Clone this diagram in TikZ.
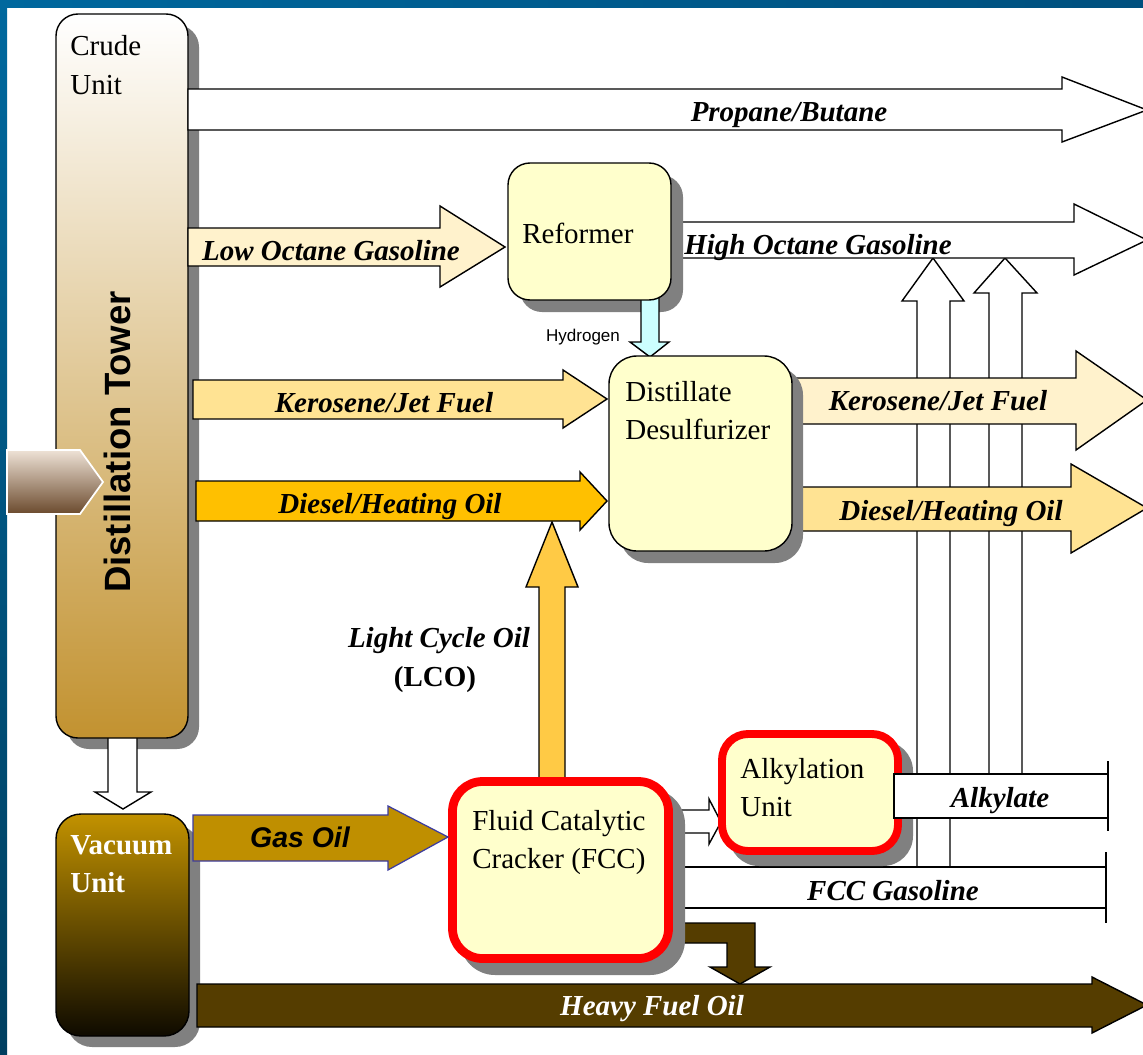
\documentclass[tikz,border=0pt]{standalone}
\usepackage{fontspec}
\setmainfont{Liberation Serif}
\setsansfont{Liberation Sans}
\definecolor{frameblueA}{HTML}{00689E}
\definecolor{frameblueB}{HTML}{003F60}
\definecolor{frameblueC}{HTML}{00507E}
\definecolor{boxyellow}{HTML}{FFFFCC}
\definecolor{cream}{HTML}{FFF2CC}
\definecolor{lightamber}{HTML}{FFE393}
\definecolor{amber}{HTML}{FFC000}
\definecolor{lcoyellow}{HTML}{FFCA45}
\definecolor{hydcyan}{HTML}{CCFFFF}
\definecolor{gasgold}{HTML}{BF8F00}
\definecolor{hfobrown}{HTML}{553D00}
\definecolor{shadowgray}{HTML}{808080}
\definecolor{towertan}{HTML}{C29230}
\definecolor{vacgoldA}{HTML}{C29200}
\definecolor{vacgoldB}{HTML}{8C6600}
\definecolor{vacgoldC}{HTML}{0E0A00}
\definecolor{gasoilblue}{HTML}{3C3CA0}
\definecolor{feedtop}{HTML}{EEE2D6}
\definecolor{feedbot}{HTML}{6B4A2D}
\begin{document}
\begin{tikzpicture}[x=0.02cm, y=-0.02cm,
  shadowbox/.style={fill=shadowgray},
  unitbox/.style={draw=black, line width=0.8pt, fill=boxyellow, inner sep=0pt},
  redbox/.style={draw=red, line width=5pt, fill=boxyellow, inner sep=0pt},
  blockarrow/.style={draw=black, line width=0.8pt, line join=miter},
  unittext/.style={font=\fontsize{16.5}{22}\selectfont, inner sep=0pt, anchor=base west},
  flowlabel/.style={font=\fontsize{16.5}{20}\selectfont\bfseries\itshape, inner sep=0pt, anchor=base},
  thinline/.style={draw=black, line width=0.8pt}]
\useasboundingbox (0,0) rectangle (1143,1055);
% background and frame
\fill[white] (0,0) rectangle (1143,1055);
\shade[top color=frameblueA, bottom color=frameblueB] (0,0) rectangle (7,1055);
\shade[left color=frameblueA, right color=frameblueC] (0,0) rectangle (1143,7);

% up arrows into high octane gasoline (behind everything)
\draw[blockarrow, fill=white] (917,867) -- (917,301) -- (902,301) -- (933,258) -- (964,301) -- (950,301) -- (950,867);
\draw[blockarrow, fill=white] (989,774) -- (989,293) -- (974,293) -- (1005,258) -- (1037,293) -- (1022,293) -- (1022,774);

% outgoing arrows that start under the box shadows
\draw[blockarrow, fill=white] (671,222) -- (1074,222) -- (1074,204) -- (1147,240) -- (1074,275) -- (1074,258) -- (671,258) -- cycle;
\draw[blockarrow, fill=cream] (792,378) -- (1076,378) -- (1076,351) -- (1147,400) -- (1076,450) -- (1076,424) -- (792,424) -- cycle;
\draw[blockarrow, fill=lightamber] (792,487) -- (1071,487) -- (1071,464) -- (1147,508) -- (1071,553) -- (1071,531) -- (792,531) -- cycle;
\draw[blockarrow, fill=white] (670,810) -- (709,810) -- (709,799) -- (721,822) -- (709,844) -- (709,833) -- (670,833) -- cycle;
\fill[white] (670,867) rectangle (1106,908);
\draw[thinline] (670,867) -- (1106,867);
\draw[thinline] (670,908) -- (1106,908);
\draw[line width=1.3pt] (1106,852) -- (1106,923);
\draw[blockarrow, fill=hfobrown] (670,923) -- (755,923) -- (755,967) -- (770,967) -- (740,984) -- (710,967) -- (727,967) -- (727,943) -- (670,943) -- cycle;
\draw[blockarrow, fill=lcoyellow] (539,790) -- (539,587) -- (526,587) -- (552,522) -- (578,587) -- (565,587) -- (565,790);

% shadows
\fill[shadowgray, rounded corners=0.44cm] (67,25) rectangle (199,749);
\fill[shadowgray, rounded corners=0.5cm] (67,825) rectangle (200,1047);
\fill[shadowgray, rounded corners=0.44cm] (520,175) rectangle (683,312);
\fill[shadowgray, rounded corners=0.56cm] (620,367) rectangle (803,563);
\fill[shadowgray, rounded corners=0.7cm] (460,789) rectangle (685,975);
\fill[shadowgray, rounded corners=0.6cm] (729,741) rectangle (913,866);

% arrows lying over shadows, under boxes
\draw[blockarrow, fill=hydcyan] (641,295) -- (641,342) -- (630,342) -- (650,357) -- (669,342) -- (659,342) -- (659,295);
\draw[blockarrow, fill=white] (108,730) -- (108,792) -- (95,792) -- (123,809) -- (151,792) -- (137,792) -- (137,730);

% boxes
\node[draw=black, line width=0.8pt, inner sep=0pt, rounded corners=0.44cm, top color=white, bottom color=towertan,
      minimum width=132*0.02cm, minimum height=724*0.02cm] (tower) at (122,376) {};
\node[draw=black, line width=0.8pt, inner sep=0pt, rounded corners=0.5cm, top color=vacgoldA, middle color=vacgoldB, bottom color=vacgoldC,
      minimum width=133*0.02cm, minimum height=222*0.02cm] (vacuum) at (122.5,925) {};
\node[unitbox, rounded corners=0.44cm, minimum width=163*0.02cm, minimum height=137*0.02cm] (reformer) at (589.5,231.5) {};
\node[unitbox, rounded corners=0.56cm, minimum width=183*0.02cm, minimum height=195*0.02cm] (desulf) at (700.5,453.5) {};
\node[redbox, rounded corners=0.6cm, minimum width=216*0.02cm, minimum height=177*0.02cm] (fcc) at (560.5,870) {};
\node[redbox, line width=4.5pt, rounded corners=0.52cm, minimum width=176*0.02cm, minimum height=117*0.02cm] (alky) at (810,792.5) {};

% crude feed
\shadedraw[top color=feedtop, bottom color=feedbot, draw=white, line width=1pt] (7,450) -- (80,450) -- (103,482) -- (80,514) -- (7,514) -- cycle;

% arrows leaving the crude unit and vacuum unit
\draw[blockarrow, fill=white] (188,89) -- (1062,89) -- (1062,77) -- (1147,110) -- (1062,142) -- (1062,130) -- (188,130) -- cycle;
\draw[blockarrow, fill=cream] (188,228) -- (440,228) -- (440,206) -- (505,247) -- (440,287) -- (440,266) -- (188,266) -- cycle;
\draw[blockarrow, fill=lightamber] (193,380) -- (563,380) -- (563,370) -- (607,399) -- (563,428) -- (563,419) -- (193,419) -- cycle;
\draw[blockarrow, fill=amber] (196,481) -- (580,481) -- (580,472) -- (607,501) -- (580,530) -- (580,521) -- (196,521) -- cycle;
\draw[draw=gasoilblue, line width=0.7pt, fill=gasgold] (193,815) -- (388,815) -- (388,806) -- (448,837) -- (388,870) -- (388,861) -- (193,861) -- cycle;
\draw[blockarrow, fill=hfobrown] (197,984) -- (1092,984) -- (1092,977) -- (1147,1005) -- (1092,1033) -- (1092,1027) -- (197,1027) -- cycle;

% alkylate band
\fill[white] (894,774) rectangle (1108,818);
\draw[thinline] (1108,774) -- (894,774) -- (894,818) -- (1108,818);
\draw[line width=1.3pt] (1108,761) -- (1108,831);

% unit texts
\node[unittext] (crudeA) at (70,55) {Crude};
\node[unittext] (crudeB) at (70,94) {Unit};
\node[rotate=90, inner sep=0pt, font=\sffamily\bfseries\fontsize{20.8}{24}\selectfont] (towerlbl) at (117,442) {Distillation Tower};
\node[unittext, text=white, font=\bfseries\fontsize{16.5}{22}\selectfont] (vacA) at (70,854) {Vacuum};
\node[unittext, text=white, font=\bfseries\fontsize{16.5}{22}\selectfont] (vacB) at (70,892) {Unit};
\node[unittext] (refA) at (522,243) {Reformer};
\node[unittext] (desA) at (625,401) {Distillate};
\node[unittext] (desB) at (625,439) {Desulfurizer};
\node[unittext] (fccA) at (472,830) {Fluid Catalytic};
\node[unittext] (fccB) at (472,868) {Cracker (FCC)};
\node[unittext] (alkA) at (740,778) {Alkylation};
\node[unittext] (alkB) at (740,816) {Unit};

% flow labels
\node[flowlabel] (lpb) at (789,121) {Propane/Butane};
\node[flowlabel] (llo) at (331,260) {Low Octane Gasoline};
\node[flowlabel, anchor=base west] (lho) at (684,254) {High Octane Gasoline};
\node[flowlabel] (lki) at (384,412) {Kerosene/Jet Fuel};
\node[flowlabel] (ldi) at (390,513) {Diesel/Heating Oil};
\node[flowlabel] (lko) at (938,410) {Kerosene/Jet Fuel};
\node[flowlabel] (ldo) at (951,520) {Diesel/Heating Oil};
\node[flowlabel] (llco) at (439,647) {Light Cycle Oil};
\node[flowlabel, font=\fontsize{16.5}{20}\selectfont\bfseries] (llcob) at (435,686) {(LCO)};
\node[flowlabel, font=\sffamily\bfseries\itshape\fontsize{16.2}{20}\selectfont] (lgas) at (300,847) {Gas Oil};
\node[flowlabel] (lalk) at (1000,807) {Alkylate};
\node[flowlabel] (lfccg) at (893,900) {FCC Gasoline};
\node[flowlabel, text=white] (lhfo) at (652,1015) {Heavy Fuel Oil};
\node[inner sep=0pt, anchor=base, font=\sffamily\fontsize{9.7}{11}\selectfont] (lhyd) at (583,341) {Hydrogen};
\end{tikzpicture}
\end{document}
